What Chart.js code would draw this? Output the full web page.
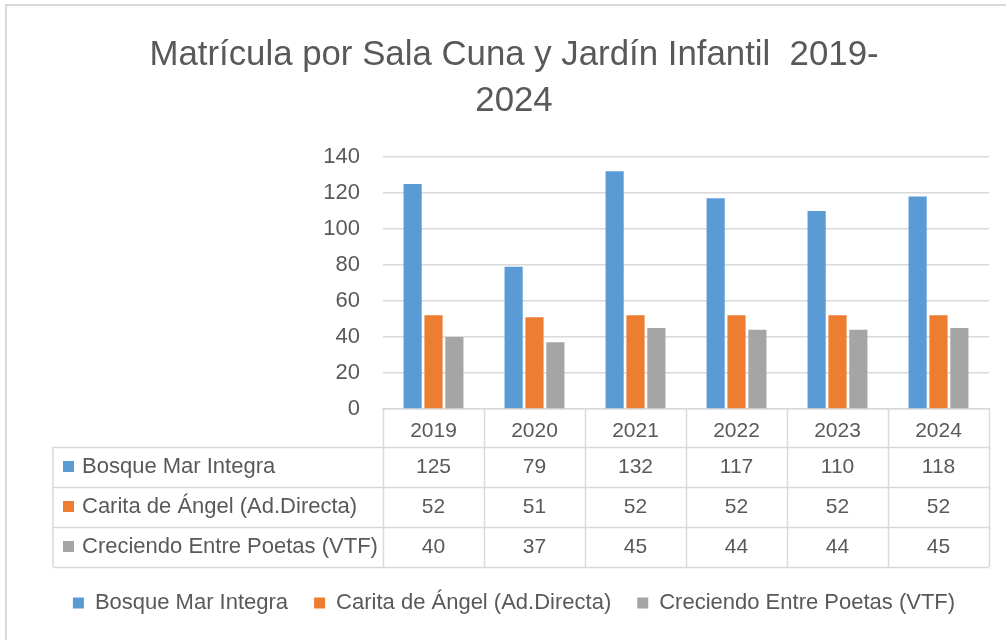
<!DOCTYPE html>
<html>
<head>
<meta charset="utf-8">
<script src="https://cdn.jsdelivr.net/npm/chart.js@4.4.1/dist/chart.umd.min.js"></script>
<style>
    html, body { margin: 0; padding: 0; background: #ffffff; }
    #wrap { width: 1006px; height: 640px; position: relative; }
</style>
</head>
<body>
<div id="wrap"><canvas id="myChart" width="1006" height="640"></canvas></div>
<script>
// Chart data
const years = ['2019', '2020', '2021', '2022', '2023', '2024'];
const seriesNames = ['Bosque Mar Integra', 'Carita de Ángel (Ad.Directa)', 'Creciendo Entre Poetas (VTF)'];
const bosqueMar = [125, 79, 132, 117, 110, 118];
const caritaAngel = [52, 51, 52, 52, 52, 52];
const creciendoPoetas = [40, 37, 45, 44, 44, 45];
const yTicks = [0, 20, 40, 60, 80, 100, 120, 140];
const titleLines = ['Matrícula por Sala Cuna y Jardín Infantil  2019-', '2024'];

const colors = ['#5B9BD5', '#ED7D31', '#A5A5A5'];
const textColor = '#595959';
const lineColor = '#D9D9D9';
const fontFamily = "'Liberation Sans', Arial, sans-serif";

// outer frame of the picture
const framePlugin = {
    id: 'frame',
    beforeDraw(chart) {
        const ctx = chart.ctx;
        ctx.save();
        ctx.fillStyle = '#ffffff';
        ctx.fillRect(0, 0, chart.width, chart.height);
        ctx.strokeStyle = lineColor;
        ctx.lineWidth = 2;
        ctx.beginPath();
        ctx.moveTo(6, chart.height + 2);
        ctx.lineTo(6, 5);
        ctx.lineTo(chart.width + 2, 5);
        ctx.stroke();
        ctx.restore();
    }
};

// data table under the x axis
const tablePlugin = {
    id: 'dataTable',
    afterDraw(chart) {
        const ctx = chart.ctx;
        const x = chart.scales.x;
        const top = chart.chartArea.bottom;
        const headerH = 38;
        const rowH = 40;
        const tableLeft = 53;
        const colW = (x.right - x.left) / years.length;
        const rows = chart.data.datasets;
        const bottom = top + headerH + rowH * rows.length;

        ctx.save();
        ctx.strokeStyle = lineColor;
        ctx.lineWidth = 1.5;
        ctx.beginPath();
        // column lines
        for (let i = 0; i <= years.length; i++) {
            const px = Math.round(x.left + colW * i) + 0.5;
            ctx.moveTo(px, top);
            ctx.lineTo(px, bottom);
        }
        ctx.moveTo(tableLeft, top + headerH);
        ctx.lineTo(tableLeft, bottom);
        // row lines
        for (let r = 0; r <= rows.length; r++) {
            const py = Math.round(top + headerH + rowH * r) + 0.5;
            ctx.moveTo(tableLeft, py);
            ctx.lineTo(x.right, py);
        }
        ctx.stroke();

        ctx.fillStyle = textColor;
        ctx.textBaseline = 'middle';
        rows.forEach((ds, r) => {
            const cy = top + headerH + rowH * r + rowH / 2;
            ctx.fillStyle = ds.backgroundColor;
            ctx.fillRect(63, cy - 6, 11, 11);
            ctx.fillStyle = textColor;
            ctx.textAlign = 'left';
            ctx.font = '22px ' + fontFamily;
            ctx.fillText(ds.label, 82, cy);
            ctx.textAlign = 'center';
            ctx.font = '21px ' + fontFamily;
            ds.data.forEach((v, i) => {
                ctx.fillText(String(v), x.getPixelForValue(i), cy);
            });
        });
        ctx.restore();
    }
};

const ctx = document.getElementById('myChart').getContext('2d');
const myChart = new Chart(ctx, {
    type: 'bar',
    data: {
        labels: years,
        datasets: [
            { label: seriesNames[0], data: bosqueMar, backgroundColor: colors[0] },
            { label: seriesNames[1], data: caritaAngel, backgroundColor: colors[1] },
            { label: seriesNames[2], data: creciendoPoetas, backgroundColor: colors[2] }
        ]
    },
    options: {
        responsive: false,
        animation: false,
        devicePixelRatio: 1,
        categoryPercentage: 0.62,
        barPercentage: 0.87,
        layout: {
            padding: { left: 39, right: 17, top: 0, bottom: 16 }
        },
        plugins: {
            title: {
                display: true,
                text: titleLines,
                color: textColor,
                font: { family: fontFamily, size: 34.8, weight: 'normal', lineHeight: 1.32 },
                padding: { top: 32, bottom: 33 }
            },
            legend: {
                position: 'bottom',
                labels: {
                    color: textColor,
                    font: { family: fontFamily, size: 22 },
                    boxWidth: 11,
                    boxHeight: 11,
                    padding: 26
                }
            },
            tooltip: { enabled: false }
        },
        scales: {
            x: {
                grid: { display: false },
                border: { display: true, color: lineColor, width: 1.5 },
                ticks: { color: textColor, font: { family: fontFamily, size: 21 }, padding: 2 },
                afterFit(scale) { scale.height = 157; }
            },
            y: {
                min: 0,
                max: 140,
                afterBuildTicks(scale) { scale.ticks = yTicks.map(v => ({ value: v })); },
                grid: { color: lineColor, lineWidth: 1.5, drawTicks: false },
                border: { display: false },
                ticks: { color: textColor, font: { family: fontFamily, size: 22 }, padding: 23 },
                afterFit(scale) { scale.width = 344; }
            }
        }
    },
    plugins: [framePlugin, tablePlugin]
});
</script>
</body>
</html>
